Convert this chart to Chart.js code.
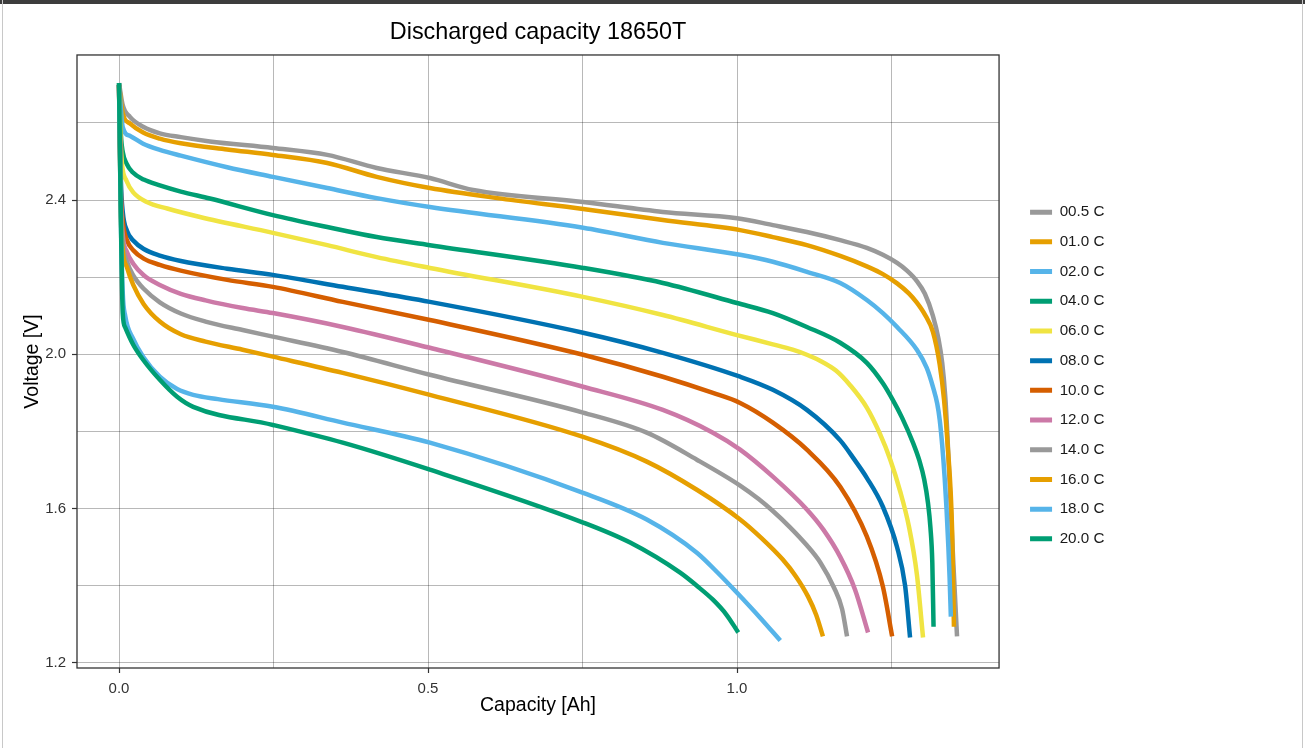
<!DOCTYPE html>
<html>
<head>
<meta charset="utf-8">
<title>Discharged capacity 18650T</title>
<script src="https://cdn.jsdelivr.net/npm/chart.js@4.4.1/dist/chart.umd.min.js"></script>
<style>
    html, body { margin: 0; padding: 0; background: #fff; }
    #wrap { position: relative; width: 1305px; height: 748px; overflow: hidden; }
    #grafico { position: absolute; left: 0; top: 0; }
    .marco-top { position: absolute; left: 0; top: 0; width: 1305px; height: 4px; background: #3d3d3d; }
    .marco-izq { position: absolute; left: 2px; top: 0; width: 1px; height: 748px; background: #c8c8c8; }
    .marco-der { position: absolute; left: 1302px; top: 0; width: 1px; height: 748px; background: #c8c8c8; }
</style>
</head>
<body>
<div id="wrap">
    <canvas id="grafico" width="1305" height="748"></canvas>
    <div class="marco-top"></div>
    <div class="marco-izq"></div>
    <div class="marco-der"></div>
</div>
<script>
// tasas de descarga y colores (Okabe-Ito)
const tasas = ['00.5 C', '01.0 C', '02.0 C', '04.0 C', '06.0 C', '08.0 C', '10.0 C', '12.0 C', '14.0 C', '16.0 C', '18.0 C', '20.0 C'];
const colores = ['#999999', '#E69F00', '#56B4E9', '#009E73', '#F0E442', '#0072B2', '#D55E00', '#CC79A7', '#999999', '#E69F00', '#56B4E9', '#009E73'];

// capacidad [Ah] y voltaje [V] por curva
const cap_00_5 = [0, 0.006, 0.018, 0.039, 0.066, 0.1, 0.147, 0.249, 0.337, 0.417, 0.503, 0.573, 0.751, 0.880, 1.0, 1.058, 1.113, 1.167, 1.210, 1.236, 1.259, 1.275, 1.291, 1.304, 1.317, 1.326, 1.332, 1.337, 1.340, 1.345, 1.350, 1.356];
const volt_00_5 = [2.703, 2.646, 2.615, 2.59, 2.573, 2.563, 2.552, 2.535, 2.517, 2.483, 2.457, 2.426, 2.395, 2.369, 2.353, 2.335, 2.317, 2.296, 2.276, 2.258, 2.237, 2.217, 2.190, 2.157, 2.100, 2.040, 1.978, 1.890, 1.805, 1.631, 1.460, 1.269];

const cap_01 = [0, 0.006, 0.018, 0.039, 0.066, 0.1, 0.175, 0.249, 0.337, 0.417, 0.503, 0.612, 0.751, 0.880, 1.005, 1.058, 1.113, 1.167, 1.210, 1.236, 1.259, 1.278, 1.291, 1.304, 1.317, 1.328, 1.335, 1.341, 1.348, 1.351];
const volt_01 = [2.698, 2.625, 2.598, 2.575, 2.559, 2.547, 2.531, 2.517, 2.496, 2.460, 2.431, 2.405, 2.377, 2.348, 2.322, 2.304, 2.283, 2.255, 2.228, 2.208, 2.184, 2.158, 2.134, 2.103, 2.058, 1.973, 1.882, 1.761, 1.546, 1.294];

const cap_02 = [0, 0.006, 0.018, 0.039, 0.066, 0.1, 0.175, 0.249, 0.337, 0.417, 0.503, 0.751, 0.880, 1.005, 1.058, 1.113, 1.167, 1.210, 1.236, 1.259, 1.291, 1.307, 1.317, 1.324, 1.328, 1.332, 1.336, 1.339, 1.342, 1.344, 1.346];
const volt_02 = [2.698, 2.589, 2.566, 2.546, 2.530, 2.515, 2.485, 2.460, 2.431, 2.405, 2.382, 2.328, 2.289, 2.258, 2.240, 2.214, 2.185, 2.141, 2.107, 2.071, 2.012, 1.965, 1.916, 1.872, 1.830, 1.765, 1.680, 1.600, 1.500, 1.420, 1.320];

const cap_04 = [0, 0.003, 0.006, 0.012, 0.022, 0.04, 0.066, 0.1, 0.147, 0.249, 0.337, 0.417, 0.503, 0.751, 0.880, 1.0, 1.058, 1.113, 1.167, 1.210, 1.236, 1.252, 1.267, 1.285, 1.295, 1.303, 1.309, 1.313, 1.316, 1.318];
const volt_04 = [2.703, 2.57, 2.525, 2.495, 2.472, 2.453, 2.438, 2.422, 2.404, 2.361, 2.330, 2.304, 2.283, 2.224, 2.185, 2.133, 2.107, 2.071, 2.030, 1.978, 1.925, 1.882, 1.836, 1.770, 1.725, 1.675, 1.615, 1.550, 1.460, 1.294];

const cap_06 = [0, 0.003, 0.005, 0.012, 0.023, 0.045, 0.078, 0.131, 0.249, 0.337, 0.417, 0.503, 0.751, 0.880, 1.0, 1.058, 1.090, 1.113, 1.135, 1.160, 1.183, 1.210, 1.231, 1.248, 1.264, 1.278, 1.291, 1.301];
const volt_06 = [2.698, 2.54, 2.49, 2.45, 2.42, 2.395, 2.378, 2.356, 2.315, 2.283, 2.252, 2.224, 2.149, 2.102, 2.050, 2.026, 2.012, 1.999, 1.983, 1.958, 1.920, 1.862, 1.795, 1.727, 1.645, 1.555, 1.430, 1.266];

const cap_08 = [0, 0.003, 0.006, 0.013, 0.023, 0.04, 0.066, 0.1, 0.175, 0.249, 0.362, 0.503, 0.751, 0.880, 1.005, 1.058, 1.113, 1.167, 1.190, 1.210, 1.236, 1.259, 1.272, 1.280];
const volt_08 = [2.698, 2.45, 2.37, 2.32, 2.295, 2.273, 2.256, 2.242, 2.222, 2.206, 2.175, 2.136, 2.056, 2.004, 1.942, 1.908, 1.856, 1.777, 1.727, 1.680, 1.605, 1.500, 1.400, 1.266];

const cap_10 = [0, 0.003, 0.006, 0.013, 0.023, 0.04, 0.066, 0.1, 0.175, 0.249, 0.362, 0.503, 0.751, 0.880, 0.961, 1.005, 1.058, 1.113, 1.167, 1.210, 1.236, 1.251];
const volt_10 = [2.698, 2.42, 2.345, 2.295, 2.27, 2.248, 2.232, 2.217, 2.193, 2.175, 2.136, 2.089, 1.999, 1.942, 1.900, 1.874, 1.823, 1.753, 1.657, 1.528, 1.398, 1.269];

const cap_12 = [0, 0.003, 0.006, 0.013, 0.023, 0.04, 0.066, 0.1, 0.14, 0.2, 0.249, 0.362, 0.503, 0.751, 0.880, 0.961, 1.005, 1.058, 1.113, 1.140, 1.167, 1.191, 1.212];
const volt_12 = [2.698, 2.40, 2.31, 2.265, 2.235, 2.205, 2.18, 2.157, 2.14, 2.12, 2.107, 2.071, 2.017, 1.916, 1.856, 1.797, 1.753, 1.683, 1.598, 1.545, 1.475, 1.390, 1.279];

const cap_14 = [0, 0.003, 0.006, 0.013, 0.023, 0.04, 0.066, 0.1, 0.14, 0.2, 0.249, 0.362, 0.503, 0.751, 0.854, 0.935, 1.005, 1.035, 1.058, 1.085, 1.113, 1.135, 1.157, 1.170, 1.178];
const volt_14 = [2.698, 2.38, 2.29, 2.24, 2.205, 2.17, 2.135, 2.106, 2.085, 2.063, 2.046, 2.006, 1.947, 1.849, 1.797, 1.727, 1.660, 1.625, 1.594, 1.553, 1.505, 1.460, 1.395, 1.340, 1.269];

const cap_16 = [0, 0.003, 0.006, 0.013, 0.023, 0.04, 0.066, 0.1, 0.14, 0.2, 0.249, 0.362, 0.503, 0.751, 0.854, 0.935, 1.005, 1.040, 1.074, 1.095, 1.115, 1.128, 1.139];
const volt_16 = [2.698, 2.36, 2.27, 2.225, 2.18, 2.13, 2.085, 2.052, 2.033, 2.012, 1.994, 1.952, 1.895, 1.786, 1.722, 1.649, 1.572, 1.523, 1.468, 1.425, 1.372, 1.325, 1.269];

const cap_18 = [0, 0.003, 0.006, 0.01, 0.023, 0.039, 0.066, 0.094, 0.12, 0.16, 0.249, 0.362, 0.503, 0.751, 0.854, 0.935, 0.970, 1.0, 1.037, 1.07];
const volt_18 = [2.698, 2.35, 2.16, 2.10, 2.04, 1.994, 1.942, 1.91, 1.895, 1.884, 1.864, 1.823, 1.771, 1.641, 1.572, 1.486, 1.432, 1.382, 1.318, 1.258];

const cap_20 = [0, 0.003, 0.006, 0.01, 0.023, 0.039, 0.066, 0.094, 0.12, 0.249, 0.362, 0.503, 0.751, 0.827, 0.908, 0.935, 0.961, 0.983, 1.002];
const volt_20 = [2.703, 2.35, 2.107, 2.07, 2.025, 1.986, 1.934, 1.890, 1.864, 1.817, 1.771, 1.701, 1.564, 1.512, 1.434, 1.400, 1.364, 1.325, 1.279];

// marcas de los ejes
const ticksX = [0, 0.25, 0.5, 0.75, 1.0, 1.25];
const etiquetasX = [0, 0.5, 1.0];
const ticksY = [1.2, 1.4, 1.6, 1.8, 2.0, 2.2, 2.4, 2.6];
const etiquetasY = [1.2, 1.6, 2.0, 2.4];

const series = [
    [cap_00_5, volt_00_5], [cap_01, volt_01], [cap_02, volt_02], [cap_04, volt_04],
    [cap_06, volt_06], [cap_08, volt_08], [cap_10, volt_10], [cap_12, volt_12],
    [cap_14, volt_14], [cap_16, volt_16], [cap_18, volt_18], [cap_20, volt_20]
];

const fuente = '"Liberation Sans", Arial, sans-serif';
const colorGrid = 'rgba(0, 0, 0, 0.28)';

// borde del panel (como ggplot)
const marcoPanel = {
    id: 'marcoPanel',
    afterDatasetsDraw(chart) {
        const {ctx, chartArea: a} = chart;
        ctx.save();
        ctx.strokeStyle = '#333';
        ctx.lineWidth = 1.3;
        ctx.strokeRect(a.left, a.top, a.right - a.left, a.bottom - a.top);
        ctx.restore();
    }
};

document.addEventListener('DOMContentLoaded', function() {
    const canva = document.getElementById('grafico');

    const datasets = series.map(([cap, volt], i) => ({
        label: tasas[i],
        data: cap.map((c, j) => ({x: c, y: volt[j]})),
        borderColor: colores[i],
        backgroundColor: colores[i],
        borderWidth: 4.5,
        borderCapStyle: 'butt',
        pointRadius: 0,
        cubicInterpolationMode: 'monotone',
        order: series.length - i
    }));

    new Chart(canva, {
        type: 'line',
        data: { datasets: datasets },
        plugins: [marcoPanel],
        options: {
            responsive: false,
            animation: false,
            devicePixelRatio: 1,
            layout: { padding: { top: 3, right: 190.6, bottom: 0, left: 0 } },
            scales: {
                x: {
                    type: 'linear',
                    min: -0.068,
                    max: 1.424,
                    afterBuildTicks: s => { s.ticks = ticksX.map(v => ({value: v})); },
                    afterFit: s => { s.height = 80; },
                    ticks: {
                        autoSkip: false,
                        maxRotation: 0,
                        padding: 7,
                        color: '#333',
                        font: { family: fuente, size: 15 },
                        callback: v => etiquetasX.includes(v) ? v.toFixed(1) : ''
                    },
                    grid: {
                        color: colorGrid,
                        lineWidth: 1,
                        tickLength: 5,
                        tickWidth: 1.2,
                        tickColor: ctx => etiquetasX.includes(ctx.tick.value) ? '#333' : 'rgba(0,0,0,0)'
                    },
                    border: { display: false },
                    title: {
                        display: true,
                        text: 'Capacity [Ah]',
                        color: '#000',
                        font: { family: fuente, size: 19.5 },
                        padding: { top: 4, bottom: 30.3 }
                    }
                },
                y: {
                    type: 'linear',
                    min: 1.187,
                    max: 2.776,
                    afterBuildTicks: s => { s.ticks = ticksY.map(v => ({value: v})); },
                    afterFit: s => { s.width = 77; },
                    ticks: {
                        autoSkip: false,
                        padding: 6,
                        color: '#333',
                        font: { family: fuente, size: 15 },
                        callback: v => etiquetasY.includes(v) ? v.toFixed(1) : ''
                    },
                    grid: {
                        color: colorGrid,
                        lineWidth: 1,
                        tickLength: 5,
                        tickWidth: 1.2,
                        tickColor: ctx => etiquetasY.includes(ctx.tick.value) ? '#333' : 'rgba(0,0,0,0)'
                    },
                    border: { display: false },
                    title: {
                        display: true,
                        text: 'Voltage [V]',
                        color: '#000',
                        font: { family: fuente, size: 19.5 },
                        padding: { top: 21.3, bottom: 0 }
                    }
                },
                // eje vacio para separar la leyenda del panel
                y2: {
                    type: 'linear',
                    position: 'right',
                    display: true,
                    afterFit: s => { s.width = 16.5; },
                    ticks: { display: false },
                    grid: { display: false },
                    border: { display: false }
                }
            },
            plugins: {
                tooltip: { enabled: false },
                title: {
                    display: true,
                    text: 'Discharged capacity 18650T',
                    fullSize: false,
                    color: '#000',
                    font: { family: fuente, size: 23.4, weight: 'normal' },
                    padding: { top: 16, bottom: 7.9 }
                },
                legend: {
                    position: 'right',
                    align: 'center',
                    labels: {
                        boxWidth: 22,
                        boxHeight: 5,
                        padding: 14.5,
                        color: '#1a1a1a',
                        font: { family: fuente, size: 15.2 },
                        sort: (a, b) => a.datasetIndex - b.datasetIndex,
                        generateLabels: function(chart) {
                            const items = Chart.defaults.plugins.legend.labels.generateLabels(chart);
                            return items.map(it => Object.assign(it, { lineWidth: 0 }));
                        }
                    }
                }
            }
        }
    });
});
</script>
</body>
</html>
